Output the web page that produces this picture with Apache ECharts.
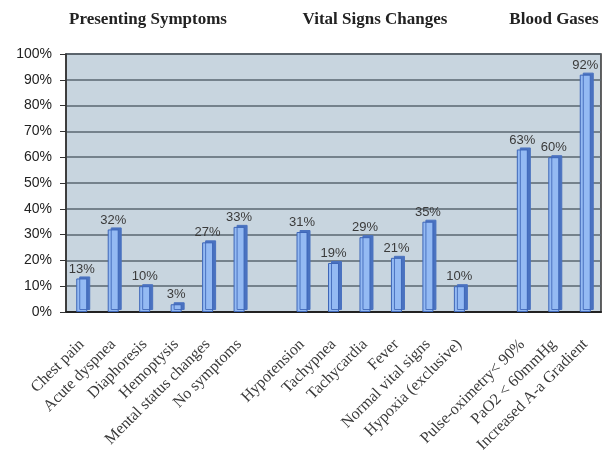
<!DOCTYPE html>
<html><head><meta charset="utf-8">
<script src="https://cdn.jsdelivr.net/npm/echarts@6/dist/echarts.min.js"></script>
<style>html,body{margin:0;padding:0;background:#fff}#c{width:609px;height:457px}</style>
</head><body><div id="c"></div>
<script>
const categories = ['Chest pain','Acute dyspnea','Diaphoresis','Hemoptysis','Mental status changes','No symptoms','',
  'Hypotension','Tachypnea','Tachycardia','Fever','Normal vital signs','Hypoxia (exclusive)','',
  'Pulse-oximetry< 90%','PaO2 < 60mmHg','Increased A-a Gradient'];
const values = [13,32,10,3,27,33,null,31,19,29,21,35,10,null,63,60,92];
const groupTitles = ['Presenting Symptoms','Vital Signs Changes','Blood Gases'];
const groupTitleX = [148,375,554];
const yTicks = [0,10,20,30,40,50,60,70,80,90,100];

const chart = echarts.init(document.getElementById('c'));
chart.setOption({
  animation:false,
  graphic: groupTitles.map((t,i)=>({type:'text',x:groupTitleX[i],y:20,
    style:{text:t,align:'center',verticalAlign:'middle',
      font:'bold 17px "Liberation Serif"',fill:'#222'}})),
  grid:{left:66,right:8,top:54,bottom:145,show:true,backgroundColor:'#c8d5df',borderColor:'#333',borderWidth:1.5},
  xAxis:{type:'category',data:categories,
    axisLine:{lineStyle:{color:'#222',width:2}},axisTick:{show:false},
    axisLabel:{interval:0,rotate:45,fontFamily:'Liberation Serif',fontSize:16,color:'#3a3a3a',margin:30}},
  yAxis:{type:'value',min:0,max:100,interval:10,
    axisLine:{show:true,lineStyle:{color:'#333',width:1.5}},
    axisTick:{show:true,length:6,lineStyle:{color:'#333'}},
    axisLabel:{formatter:v=>yTicks.includes(v)?v+'%':'',fontFamily:'Liberation Sans',fontSize:14,color:'#222',margin:14},
    splitLine:{lineStyle:{color:'#5a6670',width:1.5}}},
  series:[{type:'bar',data:values,barWidth:11,
    itemStyle:{color:'#94baf3',borderColor:'#3d66b8',borderWidth:1,
      shadowColor:'#4a72c0',shadowOffsetX:3,shadowOffsetY:-2,shadowBlur:0},
    label:{show:true,position:'top',formatter:p=>p.value+'%',fontFamily:'Liberation Sans',fontSize:13,color:'#3a3a3a',distance:3}}]
});
</script></body></html>
